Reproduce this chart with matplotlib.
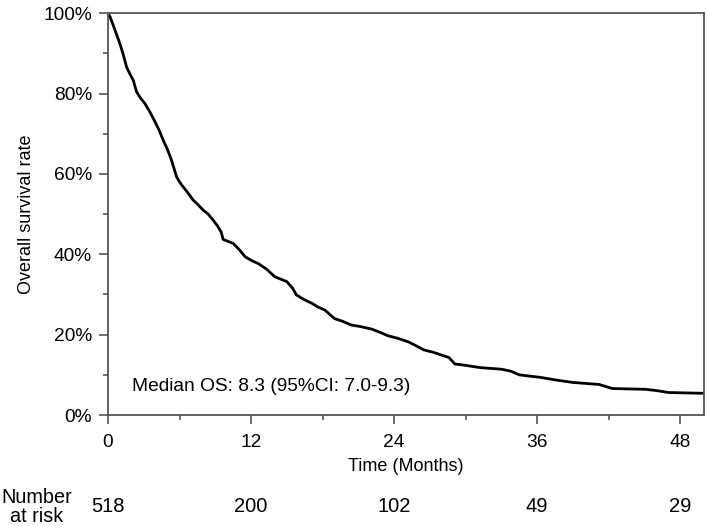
import matplotlib
matplotlib.use("Agg")
import matplotlib.pyplot as plt
from matplotlib.ticker import MultipleLocator, FuncFormatter

plt.rcParams['font.family'] = ['Liberation Sans', 'DejaVu Sans']

# Kaplan-Meier estimate
times = [0, 0.17, 0.5, 1.0, 1.3, 1.56, 1.9, 2.12, 2.4, 2.7, 3.1, 3.5, 3.94, 4.3, 4.63,
         5.0, 5.33, 5.75, 6.0, 6.3, 6.7, 7.14, 7.5, 7.98, 8.4, 8.82, 9.2, 9.5, 9.66,
         10.0, 10.5, 11.0, 11.5, 12.0, 12.6, 13.3, 14.0, 15.0, 15.5, 15.8, 16.4, 17.1,
         17.6, 18.2, 19.0, 19.7, 20.4, 21.2, 22.1, 22.8, 23.5, 24.3, 25.2, 25.8, 26.5,
         27.3, 28.2, 28.6, 29.1, 29.9, 31.2, 33.0, 33.8, 34.5, 35.3, 36.2, 37.6, 39.0,
         41.2, 42.3, 43.5, 45.1, 46.2, 47.0, 50.0]
survival = [100, 99.1, 96.5, 92.4, 89.5, 86.6, 84.5, 83.3, 80.4, 79.0, 77.5, 75.5, 73.0, 70.8, 68.4,
            66.0, 63.4, 59.3, 58.0, 56.8, 55.3, 53.5, 52.5, 51.0, 50.0, 48.5, 47.0, 45.5, 43.7,
            43.3, 42.7, 41.2, 39.4, 38.5, 37.7, 36.3, 34.4, 33.2, 31.5, 29.9, 28.8, 27.8,
            26.9, 26.1, 24.0, 23.3, 22.4, 22.0, 21.4, 20.6, 19.7, 19.1, 18.2, 17.3, 16.2,
            15.6, 14.7, 14.3, 12.7, 12.4, 11.8, 11.4, 10.9, 10.0, 9.7, 9.4, 8.7, 8.1,
            7.6, 6.6, 6.5, 6.4, 6.0, 5.6, 5.4]

risk_times = [0, 12, 24, 36, 48]
risk_numbers = [518, 200, 102, 49, 29]
x_ticks = [0, 12, 24, 36, 48]
y_ticks = [0, 20, 40, 60, 80, 100]

fig = plt.figure(figsize=(7.09, 5.26), dpi=100)
ax = fig.add_axes([0.1523, 0.211, 0.8407, 0.764])

ax.plot(times, survival, color='black', lw=2.0, solid_joinstyle='miter')

ax.set_xlim(0, 50)
ax.set_ylim(0, 100)
ax.set_xticks(x_ticks)
ax.set_yticks(y_ticks)
ax.xaxis.set_minor_locator(MultipleLocator(6))
ax.yaxis.set_minor_locator(MultipleLocator(10))
ax.yaxis.set_major_formatter(FuncFormatter(lambda v, p: f"{int(v)}%"))

spine_c = '#555555'
for sp in ax.spines.values():
    sp.set_color(spine_c)
    sp.set_linewidth(1.3)
ax.tick_params(which='major', length=6.5, width=1.2, color=spine_c, labelsize=13.8)
ax.tick_params(axis='x', which='major', pad=7)
ax.tick_params(axis='y', which='major', pad=5)
ax.tick_params(which='minor', length=3.5, width=1.2, color=spine_c)

ax.set_xlabel('Time (Months)', fontsize=13, labelpad=5)
ax.set_ylabel('Overall survival rate', fontsize=13, labelpad=6)

ax.text(2.0, 7.2, 'Median OS: 8.3 (95%CI: 7.0-9.3)', fontsize=13.8, va='center', ha='left')

row_y = 1 - 507 / 526
for t, n in zip(risk_times, risk_numbers):
    xd = ax.transData.transform((t, 0))[0]
    xf = fig.transFigure.inverted().transform((xd, 0))[0]
    fig.text(xf, row_y, str(n), fontsize=14.5, ha='center', va='center')

fig.text(37 / 709, row_y, 'Number\nat risk', fontsize=14.3, ha='center', va='center',
         linespacing=1.0)

fig.savefig('out.png', dpi=100)
